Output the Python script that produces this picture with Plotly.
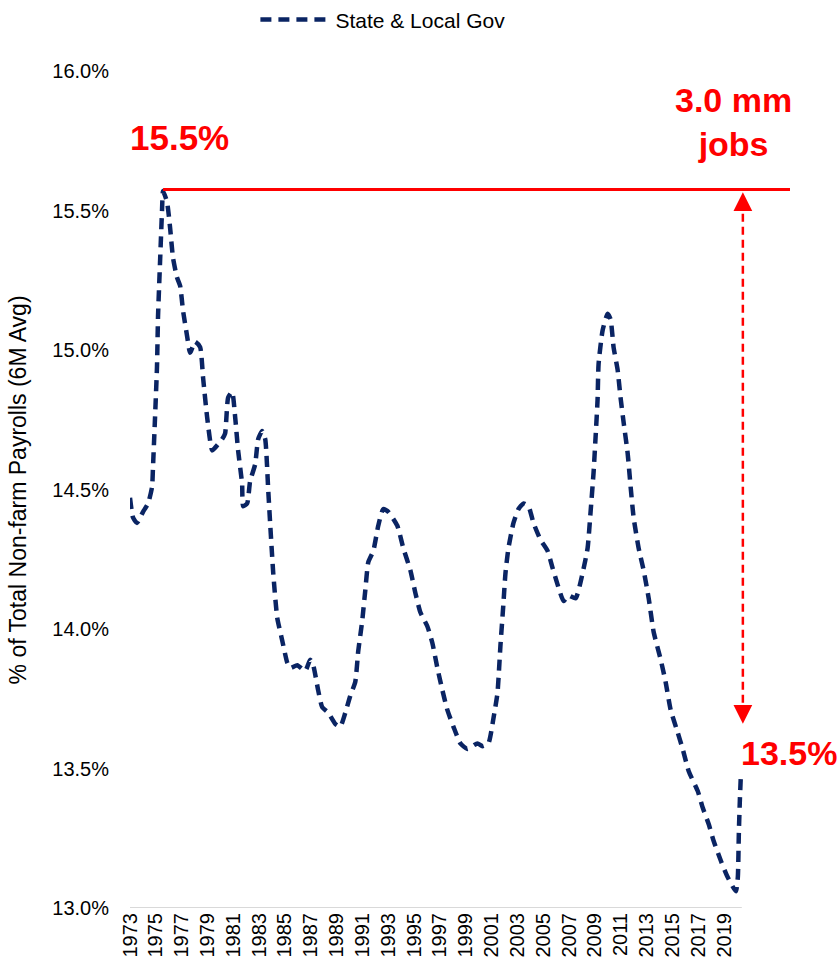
import plotly.graph_objects as go

# ---- data ----
years = [1973.00, 1973.23, 1973.54, 1974.01, 1974.40, 1974.71, 1974.78, 1974.94, 1975.09, 1975.17,
         1975.33, 1975.48, 1975.56, 1975.87, 1976.10, 1976.33, 1976.64, 1976.88, 1977.11, 1977.42,
         1977.65, 1978.04, 1978.43, 1978.66, 1978.97, 1979.36, 1979.59, 1980.13, 1980.36, 1980.60,
         1980.91, 1981.14, 1981.37, 1981.68, 1981.76, 1982.07, 1982.30, 1982.69, 1982.92, 1983.23,
         1983.47, 1983.70, 1983.85, 1984.09, 1984.40, 1984.78, 1985.17, 1985.40, 1985.95, 1986.57,
         1986.95, 1987.19, 1987.57, 1987.88, 1988.35, 1988.89, 1989.28, 1989.67, 1990.05, 1990.44,
         1990.67, 1990.98, 1991.22, 1991.45, 1991.84, 1992.22, 1992.61, 1993.00, 1993.70, 1994.16,
         1994.71, 1995.09, 1995.48, 1996.02, 1996.41, 1996.80, 1997.19, 1997.57, 1998.04, 1998.58,
         1999.12, 1999.90, 2000.29, 2000.75, 2001.14, 2001.45, 2001.68, 2001.91, 2002.07, 2002.30,
         2002.69, 2003.08, 2003.47, 2003.85, 2004.24, 2004.78, 2005.33, 2005.71, 2006.10, 2006.57,
         2006.95, 2007.50, 2008.04, 2008.43, 2008.66, 2008.89, 2009.05, 2009.20, 2009.28, 2009.59,
         2009.98, 2010.21, 2010.44, 2010.75, 2010.98, 2011.22, 2011.53, 2011.76, 2011.99, 2012.38,
         2012.77, 2013.16, 2013.54, 2014.09, 2014.47, 2014.86, 2015.40, 2015.79, 2016.26, 2016.95,
         2017.34, 2017.81, 2018.19, 2018.74, 2019.28, 2019.91, 2020.06, 2020.14, 2020.22, 2020.29]

share = [14.47, 14.40, 14.38, 14.42, 14.45, 14.51, 14.58, 14.76, 14.94, 15.12,
         15.32, 15.50, 15.57, 15.53, 15.44, 15.33, 15.26, 15.23, 15.14, 15.05,
         14.99, 15.03, 15.01, 14.90, 14.76, 14.64, 14.65, 14.68, 14.70, 14.83,
         14.85, 14.76, 14.64, 14.52, 14.44, 14.45, 14.53, 14.59, 14.68, 14.71,
         14.68, 14.50, 14.38, 14.20, 14.04, 13.96, 13.88, 13.86, 13.87, 13.85,
         13.89, 13.87, 13.78, 13.72, 13.70, 13.66, 13.65, 13.70, 13.76, 13.81,
         13.92, 14.03, 14.14, 14.24, 14.28, 14.37, 14.43, 14.42, 14.37, 14.29,
         14.21, 14.13, 14.06, 14.01, 13.95, 13.86, 13.78, 13.71, 13.65, 13.59,
         13.57, 13.59, 13.58, 13.59, 13.68, 13.77, 13.94, 14.09, 14.20, 14.29,
         14.38, 14.43, 14.45, 14.44, 14.38, 14.32, 14.28, 14.22, 14.16, 14.10,
         14.12, 14.11, 14.20, 14.29, 14.42, 14.56, 14.69, 14.82, 14.95, 15.07,
         15.13, 15.11, 15.01, 14.93, 14.83, 14.74, 14.63, 14.51, 14.40, 14.29,
         14.21, 14.11, 13.99, 13.89, 13.81, 13.71, 13.63, 13.57, 13.49, 13.42,
         13.36, 13.30, 13.24, 13.17, 13.11, 13.06, 13.11, 13.27, 13.39, 13.47]

tick_years = list(range(1973, 2020, 2))
tick_labels = [str(y) for y in tick_years]
y_ticks = [13.0, 13.5, 14.0, 14.5, 15.0, 15.5, 16.0]
y_tick_labels = ["13.0%", "13.5%", "14.0%", "14.5%", "15.0%", "15.5%", "16.0%"]

series_name = "State & Local Gov"
peak_label = "15.5%"
latest_label = "13.5%"
jobs_label = "3.0 mm<br>jobs"
peak_level = 15.575
arrow_x = 2020.45
arrow_bottom = 13.66
baseline_end = 2020.37

NAVY = "#0A2463"
RED = "#FF0000"
REG = "Liberation Sans, Arial, sans-serif"

fig = go.Figure()
fig.add_trace(go.Scatter(
    x=years, y=share, mode="lines", name=series_name,
    line=dict(color=NAVY, width=4.5, dash="11px,7px", shape="spline", smoothing=0.5),
))

# baseline
fig.add_shape(type="line", xref="x", yref="y", x0=years[0], x1=baseline_end, y0=13.0, y1=13.0,
              line=dict(color="#D9D9D9", width=2), layer="below")
# red peak line
fig.add_shape(type="line", xref="x", yref="y", x0=1975.56, x1=2024.1, y0=peak_level, y1=peak_level,
              line=dict(color=RED, width=3))
# dashed arrow shaft
fig.add_shape(type="line", xref="x", yref="y", x0=arrow_x, x1=arrow_x, y0=peak_level - 0.04, y1=arrow_bottom + 0.04,
              line=dict(color=RED, width=2.5, dash="8px,5px"))
# arrow heads
fig.add_annotation(x=arrow_x, y=peak_level - 0.01, xref="x", yref="y", text="", showarrow=True,
                   ax=0, ay=18, arrowhead=2, arrowsize=1.5, arrowwidth=2.5, arrowcolor=RED, standoff=0)
fig.add_annotation(x=arrow_x, y=arrow_bottom, xref="x", yref="y", text="", showarrow=True,
                   ax=0, ay=-18, arrowhead=2, arrowsize=1.5, arrowwidth=2.5, arrowcolor=RED, standoff=0)

fig.add_annotation(x=1976.87, y=15.763, xref="x", yref="y", text=peak_label, showarrow=False,
                   font=dict(family=REG, size=35, color=RED, weight="bold"))
fig.add_annotation(x=2024.0, y=13.556, xref="x", yref="y", text=latest_label, showarrow=False,
                   font=dict(family=REG, size=34, color=RED, weight="bold"))
fig.add_annotation(x=2019.7, y=15.817, xref="x", yref="y", text=jobs_label, showarrow=False,
                   font=dict(family=REG, size=34, color=RED, weight="bold"))

# y-axis title
fig.add_annotation(x=-0.1925, y=0.5, xref="paper", yref="paper", textangle=-90,
                   text="% of Total Non-farm Payrolls (6M Avg)", showarrow=False,
                   font=dict(family=REG, size=23, color="#000000"))

fig.update_layout(
    width=839, height=970,
    margin=dict(l=130, r=49, t=71, b=62, autoexpand=False),
    paper_bgcolor="white", plot_bgcolor="white",
    showlegend=True,
    legend=dict(orientation="h", x=0.19, y=1.061, xanchor="left", yanchor="middle",
                font=dict(family=REG, size=21, color="#000000"), itemwidth=70,
                bgcolor="rgba(0,0,0,0)"),
    xaxis=dict(range=[1973, 2024.1], tickmode="array", tickvals=tick_years, ticktext=tick_labels,
               tickangle=-90, showgrid=False, zeroline=False, showline=False, ticks="",
               tickfont=dict(family=REG, size=20, color="#000000")),
    yaxis=dict(range=[13.0, 16.0], tickmode="array", tickvals=y_ticks, ticktext=y_tick_labels,
               showgrid=False, zeroline=False, showline=False, ticks="", ticklabelstandoff=20,
               tickfont=dict(family=REG, size=20, color="#000000")),
)

fig.write_html("out.html")
